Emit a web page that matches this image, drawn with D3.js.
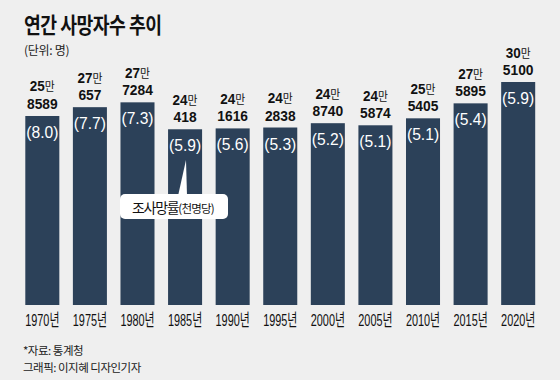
<!DOCTYPE html>
<html><head><meta charset="utf-8">
<script src="https://cdn.jsdelivr.net/npm/d3@7"></script>
<style>
html,body{margin:0;padding:0;background:#efefef;}
svg{display:block;}
</style></head>
<body>
<script>
const years = ["1970년","1975년","1980년","1985년","1990년","1995년","2000년","2005년","2010년","2015년","2020년"];
const deaths = [258589,270657,277284,240418,241616,242838,248740,245874,255405,275895,305100];
const rates = ["8.0","7.7","7.3","5.9","5.6","5.3","5.2","5.1","5.1","5.4","5.9"];

const W=560,H=380;
const svg=d3.select("body").append("svg").attr("width",W).attr("height",H);
svg.append("rect").attr("width",W).attr("height",H).attr("fill","#efefef");

const lat = "'Liberation Sans','Noto Sans CJK KR',sans-serif";
const kr = "'Noto Sans CJK KR','Noto Sans',sans-serif";

const x=d3.scaleBand().domain(years).range([18.5,542]).paddingInner(0.285).paddingOuter(0.143);
const y=d3.scaleLinear().domain([0,305100]).range([305,82]);

svg.append("text").attr("transform","translate(24,33) scale(0.85,1)").attr("font-family",kr).attr("font-weight",700)
  .attr("font-size",21.5).attr("fill","#111").attr("letter-spacing",-0.6).text("연간 사망자수 추이");
svg.append("text").attr("x",24).attr("y",55).attr("font-family",kr)
  .attr("font-size",12).attr("fill","#222").attr("letter-spacing",-0.3).text("(단위: 명)");

const g=svg.append("g");
g.selectAll("rect.bar").data(deaths).join("rect").attr("class","bar")
  .attr("x",(d,i)=>x(years[i])).attr("width",x.bandwidth())
  .attr("y",d=>y(d)).attr("height",d=>y(0)-y(d)).attr("fill","#2c4159");

// value labels
const lab=g.selectAll("g.lab").data(deaths).join("g").attr("class","lab")
  .attr("transform",(d,i)=>`translate(${x(years[i])+x.bandwidth()/2},${y(d)})`);
const l1=lab.append("text").attr("transform","translate(0,-24.5) scale(0.9,1)").attr("text-anchor","middle").attr("fill","#111")
  .attr("font-family",lat).attr("font-weight",700).attr("font-size",15);
l1.append("tspan").text(d=>Math.floor(d/10000));
l1.append("tspan").attr("font-family",kr).attr("font-weight",400).attr("font-size",12).text("만");
lab.append("text").attr("transform","translate(0,-7) scale(0.92,1)").attr("text-anchor","middle").attr("fill","#111")
  .attr("font-family",lat).attr("font-weight",700).attr("font-size",15)
  .text(d=>d%10000);
lab.append("text").attr("transform","translate(0,22) scale(0.92,1)").attr("text-anchor","middle").attr("fill","#fff")
  .attr("font-family",lat).attr("font-size",17).text((d,i)=>`(${rates[i]})`);

// x axis labels
g.selectAll("text.xl").data(years).join("text").attr("class","xl")
  .attr("transform",d=>`translate(${x(d)+x.bandwidth()/2},326) scale(0.64,1)`).attr("text-anchor","middle")
  .attr("font-family",lat).attr("font-size",17).attr("fill","#111").text(d=>d);

// callout
const cb=svg.append("g");
cb.append("path").attr("d","M178,196 L186,160 L187,196 Z").attr("fill","#fff");
cb.append("rect").attr("x",120).attr("y",194).attr("width",108).attr("height",25).attr("rx",5).attr("fill","#fff");
const ct=cb.append("text").attr("x",132).attr("y",212.5).attr("font-family",kr).attr("fill","#111");
ct.append("tspan").attr("font-size",14).attr("letter-spacing",-1.3).text("조사망률");
ct.append("tspan").attr("font-size",11.5).attr("letter-spacing",-0.8).text("(천명당)");

svg.append("text").attr("x",23).attr("y",355).attr("font-family",kr).attr("font-size",11.5).attr("fill","#222").attr("letter-spacing",-0.5).text("*자료: 통계청");
svg.append("text").attr("x",23).attr("y",372).attr("font-family",kr).attr("font-size",11.5).attr("fill","#222").attr("letter-spacing",-0.5).text("그래픽: 이지혜 디자인기자");
</script>
</body></html>
